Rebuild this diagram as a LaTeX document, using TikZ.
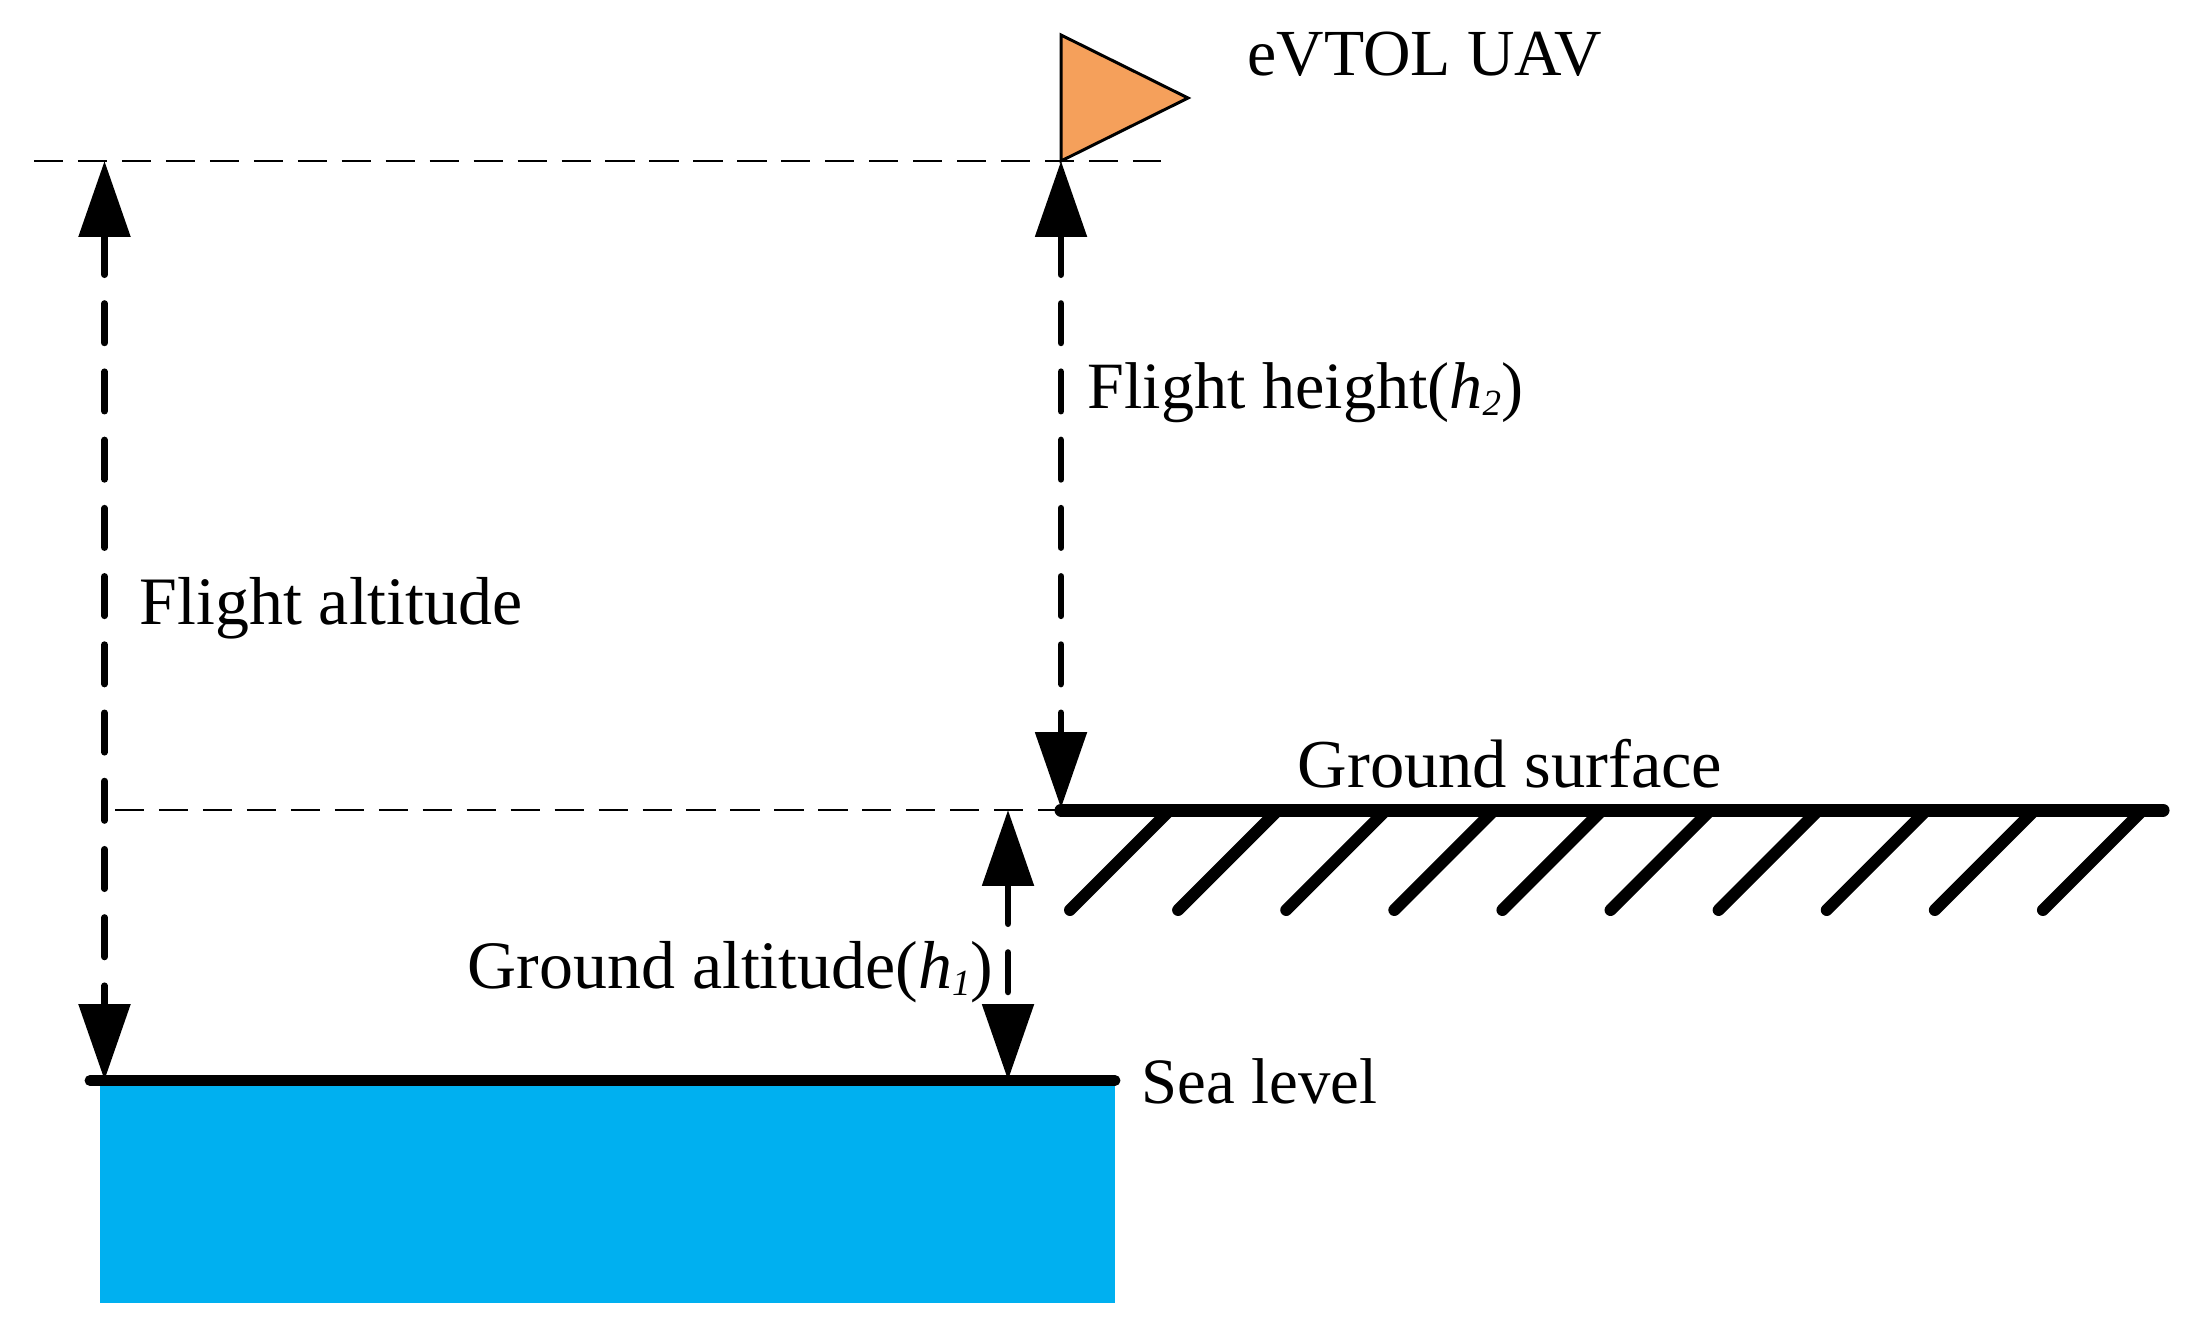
\documentclass[tikz,border=0pt]{standalone}
\usepackage{fontspec}
\setmainfont{Liberation Serif}
\usepackage{xcolor}
\usetikzlibrary{arrows.meta}

\definecolor{uavorange}{HTML}{F5A05B}
\definecolor{seablue}{HTML}{00B0F0}

\newcommand{\hsub}[1]{{\itshape h\raisebox{-0.25ex}{\fontsize{10.5}{10.5}\selectfont #1}}}

\tikzset{
  caption/.style={anchor=base west, inner sep=0pt, font=\fontsize{#1}{23}\selectfont},
  caption/.default=19.3,
  hatchline/.style={line width=3.4pt, line cap=round},
  helpdash/.style={line width=0.77pt, dash pattern=on 8.3pt off 4.2pt},
  span/.style={line width=1.9pt, line cap=round, dash pattern=on 11.2pt off 8.2pt,
    {Triangle[length=21.6pt, width=14.4pt]}-{Triangle[length=21.6pt, width=14.4pt]}}
}

\begin{document}
\begin{tikzpicture}[x=0.01cm, y=-0.01cm]
  \useasboundingbox (0,0) rectangle (2204,1339);

  % Levels
  \coordinate (topL) at (34,161);
  \coordinate (topR) at (1161,161);
  \coordinate (uav) at (1061,161);
  \coordinate (midL) at (115,810);
  \coordinate (groundL) at (1061,810);
  \coordinate (groundR) at (2163,810);
  \coordinate (seaL) at (90,1080.5);
  \coordinate (seaR) at (1115,1080.5);
  \coordinate (flightB) at (104.5,1080);
  \coordinate (flightT) at (104.5,161);
  \coordinate (heightB) at (1061,808);
  \coordinate (altT) at (1008,810);
  \coordinate (altB) at (1008,1080);

  % Sea
  \fill[seablue] (100,1081) rectangle (1115,1303);
  \draw[line width=3.1pt, line cap=round] (seaL) -- (seaR);
  \node[caption=18.4] (sea) at (1141,1103) {Sea level};

  % Ground
  \foreach \i in {0,...,9} {
    \draw[hatchline] (1168+108.1*\i,812) -- (1070+108.1*\i,910);
  }
  \draw[line width=3.7pt, line cap=round] (groundL) -- (groundR);
  \node[caption=19.5] (surface) at (1297,787) {Ground surface};

  % Helper lines
  \draw[helpdash] (topL) -- (topR);
  \draw[helpdash] (midL) -- (groundL);

  % UAV
  \draw[fill=uavorange, line width=0.85pt, line join=miter] (1061,35) -- (1188,98) -- (uav) -- cycle;
  \node[caption=18.7] (uavname) at (1247,75.5) {eVTOL UAV};

  % Heights
  \draw[span] (flightT) -- (flightB);
  \node[caption] (altitude) at (139,624) {Flight altitude};

  \draw[span] (uav) -- (heightB);
  \node[caption=18.8] (height) at (1087,408) {Flight height(\hsub{2})};

  \draw[span] (altT) -- (altB);
  \node[caption] (groundalt) at (467,988) {Ground altitude(\hsub{1})};
\end{tikzpicture}
\end{document}
